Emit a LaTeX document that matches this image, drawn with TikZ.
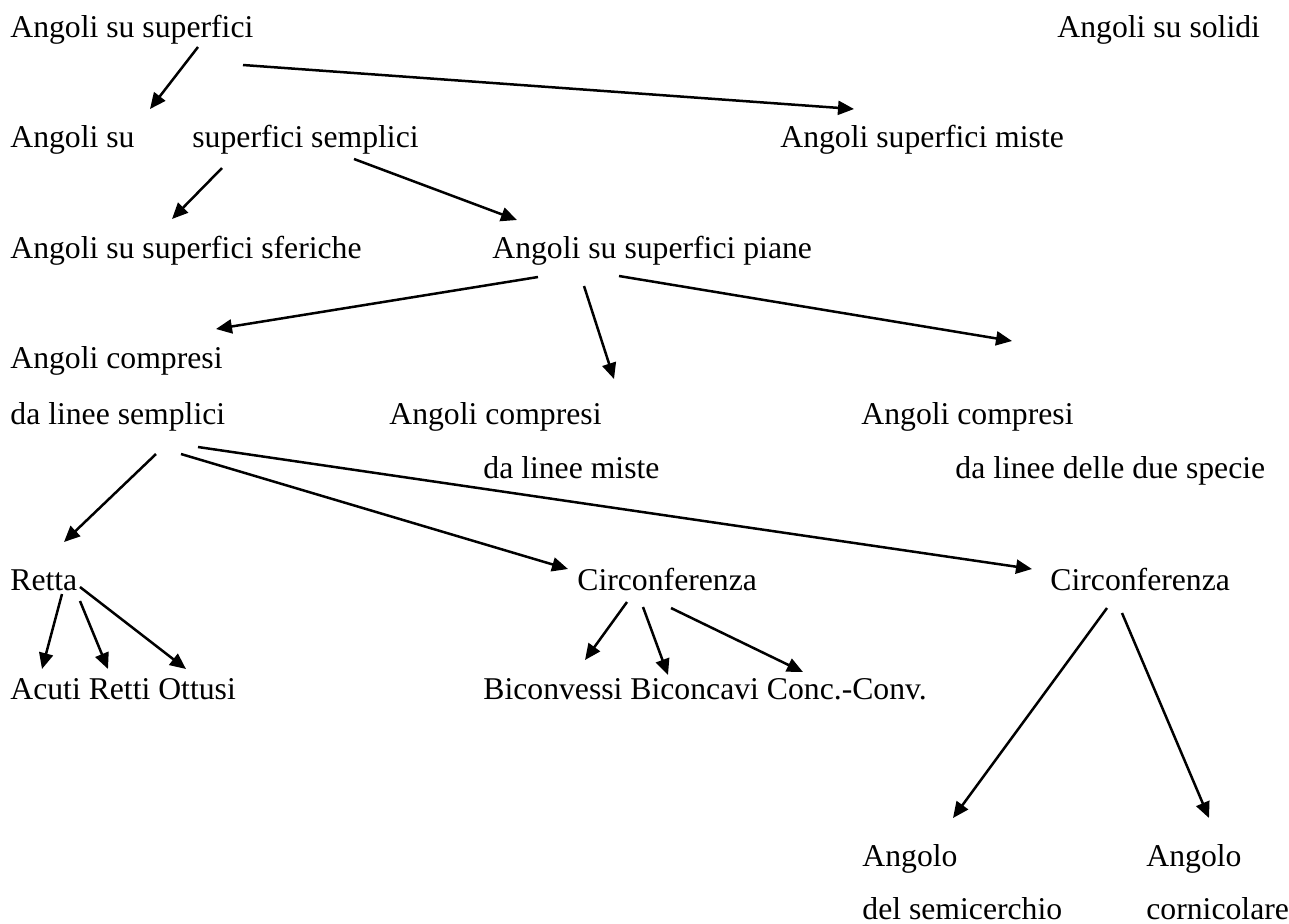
\documentclass[tikz,border=0pt]{standalone}
\usepackage{fontspec}
\setmainfont{Liberation Serif}
\usetikzlibrary{arrows.meta}

\tikzset{
  txt/.style={anchor=base west, inner sep=0pt, font=\fontsize{15.85}{19}\selectfont},
  freccia/.style={line width=1.25pt, -{Triangle[length=8pt,width=7pt]}}
}

\begin{document}
\begin{tikzpicture}[x=0.5pt, y=-0.5pt]
			\useasboundingbox (0,0) rectangle (1289,923);
			% testi
			\node[txt] (sup) at (10,37) {Angoli su superfici};
			\node[txt] (sol) at (1057,37) {Angoli su solidi};
			\node[txt] (su) at (10,147) {Angoli su};
			\node[txt] (sempl) at (192,147) {superfici semplici};
			\node[txt] (miste) at (780,147) {Angoli superfici miste};
			\node[txt] (sfer) at (10,258) {Angoli su superfici sferiche};
			\node[txt] (piane) at (492,258) {Angoli su superfici piane};
			\node[txt] (cs1) at (10,368) {Angoli compresi};
			\node[txt] (cs2) at (10,424) {da linee semplici};
			\node[txt] (cm1) at (389,424) {Angoli compresi};
			\node[txt] (cm2) at (483,478) {da linee miste};
			\node[txt] (cd1) at (861,424) {Angoli compresi};
			\node[txt] (cd2) at (955,478) {da linee delle due specie};
			\node[txt] (retta) at (10,590) {Retta};
			\node[txt] (circA) at (577,590) {Circonferenza};
			\node[txt] (circB) at (1050,590) {Circonferenza};
			\node[txt] (aro) at (10,699) {Acuti Retti Ottusi};
			\node[txt] (bic) at (483,699) {Biconvessi Biconcavi Conc.-Conv.};
			\node[txt] (semi1) at (862,866) {Angolo};
			\node[txt] (semi2) at (862,919) {del semicerchio};
			\node[txt] (corn1) at (1146,866) {Angolo};
			\node[txt] (corn2) at (1146,919) {cornicolare};
			% estremi delle frecce
			\coordinate (a1) at (198,47);   \coordinate (b1) at (150,109);
			\coordinate (a2) at (243,65);   \coordinate (b2) at (854,109);
			\coordinate (a3) at (222,168);  \coordinate (b3) at (172,219);
			\coordinate (a4) at (354,159);  \coordinate (b4) at (517,220);
			\coordinate (a5) at (538,277);  \coordinate (b5) at (216,329);
			\coordinate (a6) at (584,286);  \coordinate (b6) at (614,379);
			\coordinate (a7) at (619,276);  \coordinate (b7) at (1012,341);
			\coordinate (a8) at (156,454);  \coordinate (b8) at (64,542);
			\coordinate (a9) at (181,454);  \coordinate (b9) at (568,569);
			\coordinate (a10) at (198,447); \coordinate (b10) at (1032,569);
			\coordinate (a11) at (62,594);  \coordinate (b11) at (42,669);
			\coordinate (a12) at (80,601);  \coordinate (b12) at (108,669);
			\coordinate (a13) at (80,587);  \coordinate (b13) at (186,669);
			\coordinate (a14) at (627,602); \coordinate (b14) at (585,660);
			\coordinate (a15) at (643,607); \coordinate (b15) at (668,675);
			\coordinate (a16) at (671,608); \coordinate (b16) at (803,672);
			\coordinate (a17) at (1107,608); \coordinate (b17) at (953,818);
			\coordinate (a18) at (1122,613); \coordinate (b18) at (1209,818);
			% frecce
			\foreach \i in {1,...,18}
				\draw[freccia] (a\i)--(b\i);
		\end{tikzpicture}
\end{document}
